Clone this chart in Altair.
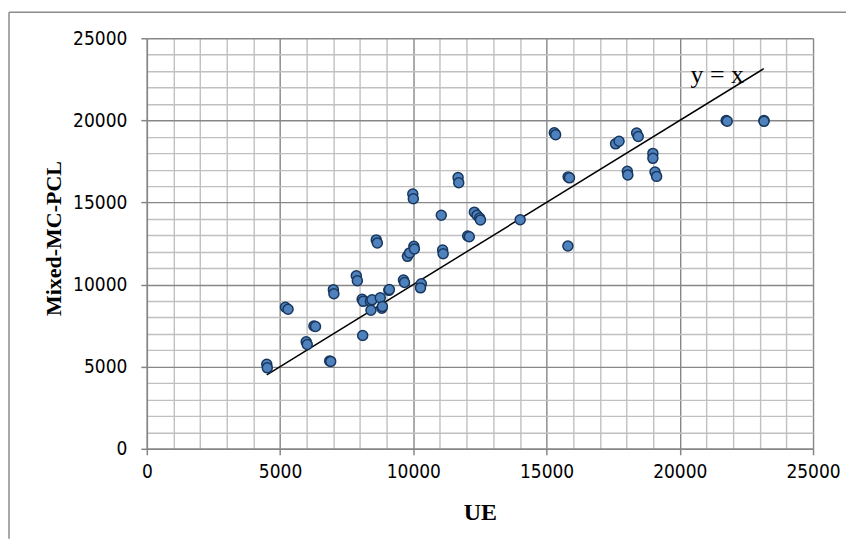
import altair as alt
import pandas as pd

# ---- data ----
ue = [4500, 4520, 5200, 5300, 5980, 6020, 6270, 6330, 6860, 6900,
      7000, 7020, 7860, 7900, 8080, 8120, 8100, 8390, 8410, 8450,
      8610, 8650, 8760, 8820, 8840, 9080, 9100, 9630, 9670, 9780,
      9860, 9980, 10000, 10020, 10040, 10300, 10270, 11050, 11100, 11120,
      11680, 11705, 12040, 12100, 12290, 12390, 12490, 12520, 14010, 15290,
      15340, 15810, 15860, 15800, 17590, 17720, 18030, 18050, 18380, 18440,
      18990, 18990, 19070, 19130, 21740, 21780, 23160, 23160]
pcl = [5150, 4930, 8620, 8500, 6520, 6350, 7480, 7450, 5350, 5320,
       9690, 9440, 10540, 10230, 9100, 8980, 6900, 8980, 8440, 9070,
       12720, 12530, 9200, 8560, 8660, 9650, 9700, 10280, 10130, 11720,
       11930, 15520, 15230, 12330, 12170, 10050, 9800, 14220, 12100, 11880,
       16520, 16200, 12960, 12910, 14410, 14220, 14050, 13930, 13950, 19250,
       19130, 16560, 16500, 12350, 18570, 18730, 16900, 16680, 19230, 19020,
       17990, 17690, 16850, 16590, 19990, 19950, 19990, 19940]

line_ue = [4500, 23150]
line_pcl = [4500, 23150]

note_text = ["y = x"]
note_ue = [20400]
note_pcl = [22300]

tick_values = list(range(0, 25001, 1000))
major_step = 5000

points = pd.DataFrame({"UE": ue, "PCL": pcl})
line = pd.DataFrame({"UE": line_ue, "PCL": line_pcl})
note = pd.DataFrame({"UE": note_ue, "PCL": note_pcl, "t": note_text})
frame = pd.DataFrame({"k": [0]})

major = f"datum.value % {major_step} === 0"
grid_color = {"condition": {"test": major, "value": "#878787"}, "value": "#c0c0c0"}
tick_op = {"condition": {"test": major, "value": 1}, "value": 0}
label_expr = f"{major} ? datum.label : ''"

x_axis = alt.Axis(values=tick_values, format="d", labelExpr=label_expr,
                  gridColor=grid_color, tickOpacity=tick_op, labelFlush=False,
                  title="UE", titleY=71, titleBaseline="alphabetic",
                  titleFontSize=24, labelPadding=8)
y_axis = alt.Axis(values=tick_values, format="d", labelExpr=label_expr,
                  gridColor=grid_color, tickOpacity=tick_op,
                  title="Mixed-MC-PCL", titleX=-86, titleY=200,
                  titleBaseline="alphabetic", titleFontSize=22, labelPadding=14)

scale = alt.Scale(domain=[0, 25000], nice=False, zero=False)
X = alt.X("UE:Q", scale=scale, axis=x_axis)
Y = alt.Y("PCL:Q", scale=scale, axis=y_axis)

pts = alt.Chart(points).mark_point(
    filled=True, shape="circle", size=100, fill="#4F81BD", stroke="#17375E",
    strokeWidth=1.5, opacity=1
).encode(x=X, y=Y)

ln = alt.Chart(line).mark_line(color="black", strokeWidth=1.5).encode(x=X, y=Y)

txt = alt.Chart(note).mark_text(
    align="left", baseline="alphabetic", font="Liberation Serif",
    fontSize=26, color="black"
).encode(x=X, y=Y, text="t:N")

border_color = "#8c8c8c"
left_border = alt.Chart(frame).mark_rule(color=border_color, strokeWidth=1.5).encode(
    x=alt.value(-138), y=alt.value(-26), y2=alt.value(501))
top_border = alt.Chart(frame).mark_rule(color=border_color, strokeWidth=1.5).encode(
    x=alt.value(-138), x2=alt.value(700), y=alt.value(-26))

chart = alt.layer(ln, pts, txt, left_border, top_border).properties(
    width=667, height=411,
    padding={"left": 0, "top": 3, "right": 0, "bottom": 0},
    background="white"
).configure_view(strokeWidth=0).configure_axis(
    labelFont="DejaVu Sans Condensed, sans-serif",
    labelFontSize=19, labelColor="black",
    titleFont="Liberation Serif", titleFontWeight="bold", titleColor="black",
    domainColor="#868686", domainWidth=1.5,
    tickColor="#868686", tickWidth=1.5, tickSize=6,
    gridWidth=1.4, gridOpacity=1
)

chart.save("out.html", embed_options={"renderer": "svg", "actions": False})
